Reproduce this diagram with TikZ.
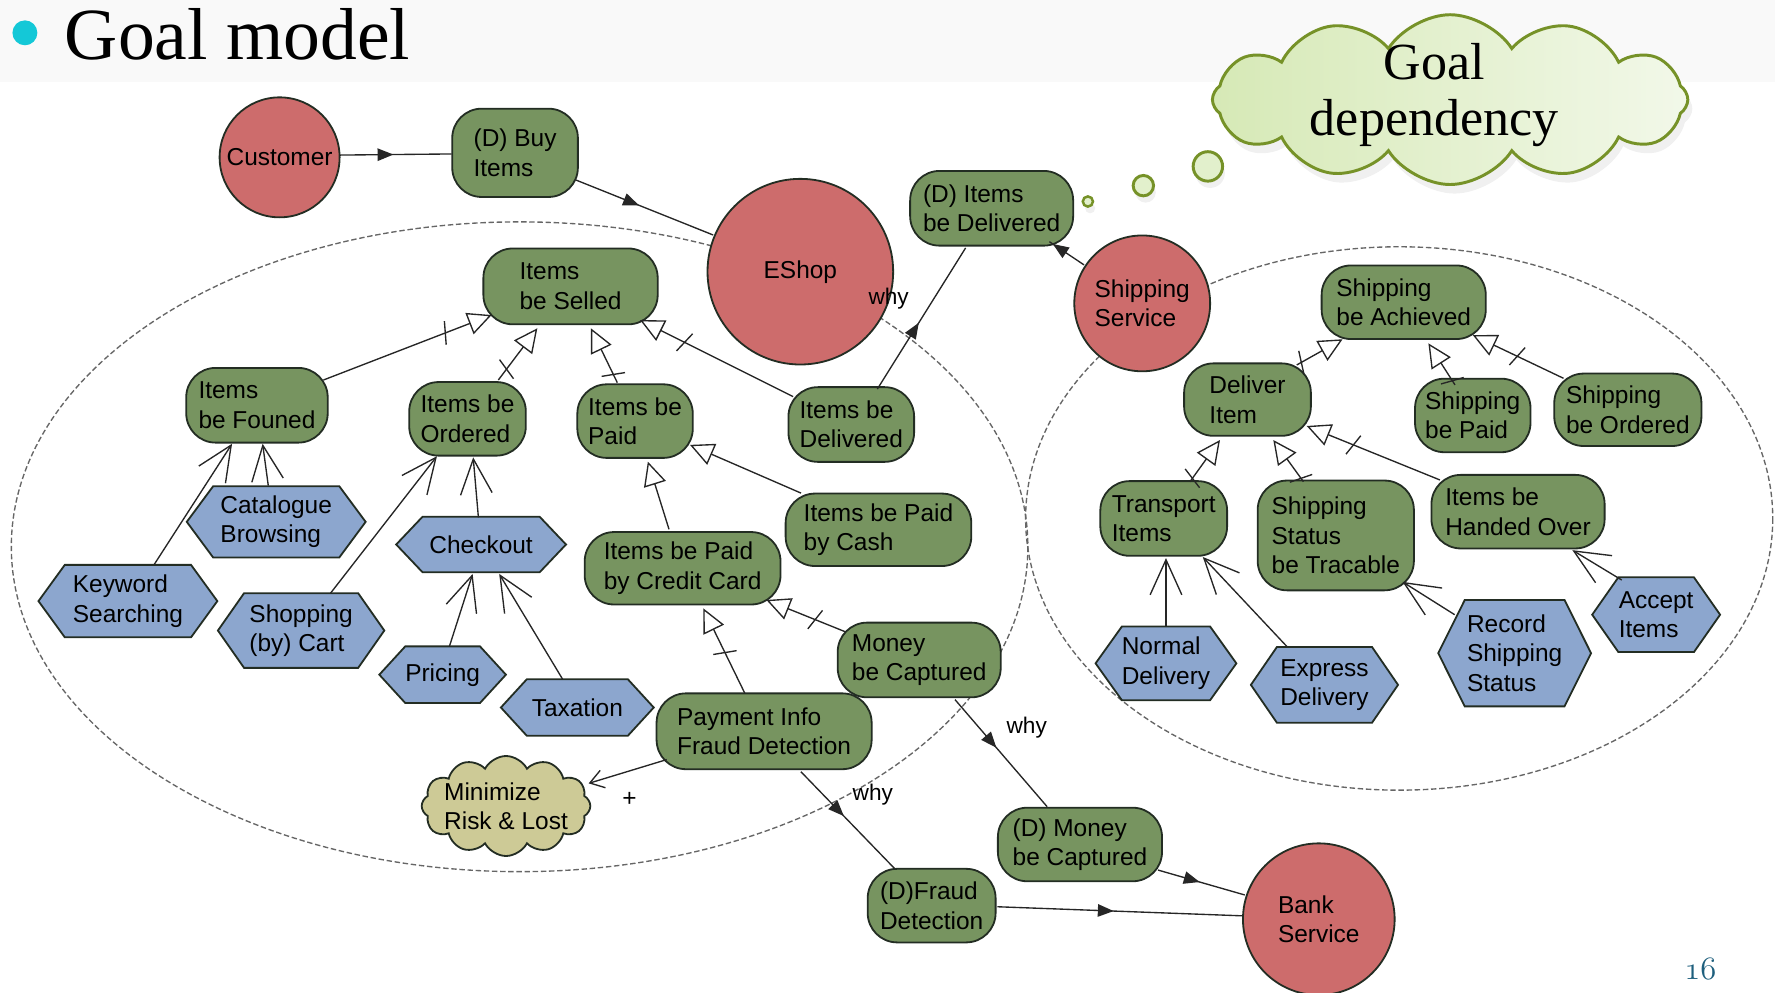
\documentclass[tikz,border=0pt]{standalone}
\usepackage{fontspec}
\newfontfamily\diafont{Liberation Sans}
\newfontfamily\serifont{Liberation Serif}
\usetikzlibrary{arrows.meta,shapes.symbols,decorations.markings,shadows}

\definecolor{goalgreen}{RGB}{119,148,96}
\definecolor{actorred}{RGB}{205,108,108}
\definecolor{taskblue}{RGB}{140,166,206}
\definecolor{softkhaki}{RGB}{205,202,150}
\definecolor{cloudleft}{RGB}{214,233,182}
\definecolor{cloudright}{RGB}{242,248,233}
\definecolor{bubbleedge}{RGB}{118,146,40}
\definecolor{edgedark}{RGB}{35,45,35}
\definecolor{bulletcyan}{RGB}{20,200,215}
\definecolor{pagenum}{RGB}{30,95,125}

\begin{document}
\begin{tikzpicture}[x=0.5pt,y=-0.5pt,
  every node/.style={font=\diafont\fontsize{10.8}{13}\selectfont, text=black},
  wh/.style 2 args={minimum width=#1*0.5pt, minimum height=#2*0.5pt},
  elem/.style={draw=edgedark, line width=0.8pt, inner sep=0pt, align=left},
  goal/.style={elem, rectangle, rounded corners=13pt, fill=goalgreen},
  actor/.style={elem, circle, fill=actorred},
  task/.style={elem, signal, signal to=west and east, signal pointer angle=#1, fill=taskblue},
  softgoal/.style={elem, cloud, cloud puffs=12, cloud puff arc=125, aspect=2.1, fill=softkhaki,
    inner xsep=-2pt, inner ysep=-3.5pt},
  bubble/.style={circle, draw=bubbleedge, line width=1.3pt, fill=cloudleft!70!white, inner sep=0pt,
    drop shadow={opacity=0.12, shadow xshift=1pt, shadow yshift=-3pt}},
  boundary/.style={draw=black!60, dash pattern=on 2.4pt off 1.2pt, line width=0.6pt},
  link/.style={draw=black!85, line width=0.6pt},
  meansend/.style={link, -{Straight Barb[length=15.5pt,width=14pt]}},
  refine/.style={link, -{Triangle[open,length=10.5pt,width=10pt]}},
  andtick/.style={postaction={decorate,decoration={markings,
      mark=at position #1 with {\draw[link,-] (-1.5pt,-5pt) -- (1.5pt,5pt);}}}},
  depend/.style={link, postaction={decorate,decoration={markings,
      mark=at position #1 with {\arrow{Triangle[length=7pt,width=5.5pt]}}}}},
  contrib/.style={link, -{Straight Barb[length=6pt,width=8pt]}},
  whylabel/.style={font=\diafont\fontsize{10}{12}\selectfont, inner sep=0pt},
]
\useasboundingbox (0,0) rectangle (1568,877);

% title strip
\fill[black!2.5] (0,0) rectangle (1568,72);
\node[circle, fill=bulletcyan, minimum size=11pt, inner sep=0pt] (bullet) at (22,29) {};
\node[anchor=base west, inner sep=0pt, font=\serifont\fontsize{32.5}{38}\selectfont] (title) at (57,53) {Goal model};

% thought bubble
\node[bubble, minimum size=4.5pt, line width=1.1pt] (b1) at (961,178) {};
\node[bubble, minimum size=9pt] (b2) at (1010,164) {};
\node[bubble, minimum size=13pt] (b3) at (1067,147) {};
\node[cloud, cloud puffs=12, cloud puff arc=115, aspect=2.7, wh={420}{150},
      draw=bubbleedge, line width=1.3pt, left color=cloudleft, right color=cloudright,
      drop shadow={opacity=0.12, shadow xshift=2pt, shadow yshift=-4pt}] (thought) at (1281,88) {};
\node[align=center, font=\serifont\fontsize{23}{25}\selectfont] (thoughttext) at (1267,84) {Goal\\dependency};

% actor boundaries
\draw[boundary] (459,483) ellipse [x radius=449, y radius=287];
\draw[boundary] (1236,458) ellipse [x radius=330, y radius=240];

% actors
\node[actor, minimum size=53pt] (customer) at (247,139) {Customer};
\node[actor, minimum size=82pt] (eshop) at (707,240) {EShop};
\node[actor, minimum size=60pt] (shipserv) at (1009,268) {Shipping\\Service};
\node[actor, minimum size=67pt] (bank) at (1165,812) {Bank\\Service};

% goals
\node[goal, wh={111}{78}] (dbuy) at (455,135) {(D) Buy\\Items};
\node[goal, wh={144}{66}] (ditemsdel) at (876,184) {(D) Items\\be Delivered};
\node[goal, wh={154}{67}] (selled) at (504,253) {Items\\be Selled};
\node[goal, wh={125}{66}] (founed) at (227,358) {Items\\be Founed};
\node[goal, wh={103}{65}] (ordered) at (413,370) {Items be\\Ordered};
\node[goal, wh={102}{65}] (paid) at (561,372) {Items be\\Paid};
\node[goal, wh={111}{66}] (delivered) at (752,375) {Items be\\Delivered};
\node[goal, wh={164}{64}] (cash) at (776,468) {Items be Paid\\by Cash};
\node[goal, wh={173}{64}] (credit) at (603,502) {Items be Paid\\by Credit Card};
\node[goal, wh={144}{66}] (moneycap) at (812,583) {Money\\be Captured};
\node[goal, wh={190}{67}] (fraudinfo) at (675,646) {Payment Info\\Fraud Detection};
\node[goal, wh={145}{65}] (dmoney) at (954,746) {(D) Money\\be Captured};
\node[goal, wh={113}{65}] (dfraud) at (823,800) {(D)Fraud\\Detection};
\node[goal, wh={145}{65}] (achieved) at (1240,267) {Shipping\\be Achieved};
\node[goal, wh={112}{64}] (deliver) at (1102,353) {Deliver\\Item};
\node[goal, wh={102}{65}] (shippaid) at (1301,367) {Shipping\\be Paid};
\node[goal, wh={130}{64}] (shipordered) at (1438,362) {Shipping\\be Ordered};
\node[goal, wh={112}{66}] (transport) at (1028,458) {Transport\\Items};
\node[goal, wh={138}{97}] (tracable) at (1180,473) {Shipping\\Status\\be Tracable};
\node[goal, wh={153}{65}] (handed) at (1341,452) {Items be\\Handed Over};

% tasks
\node[task=107, wh={158}{63}] (catalogue) at (244,461) {Catalogue\\Browsing};
\node[task=108, wh={158}{64}] (keyword) at (113,531) {Keyword\\Searching};
\node[task=110, wh={147}{66}] (shopping) at (266,557) {Shopping\\(by) Cart};
\node[task=93, wh={150}{49}] (checkout) at (425,481) {Checkout};
\node[task=95, wh={108}{50}] (pricing) at (391,596) {Pricing};
\node[task=95, wh={135}{50}] (taxation) at (510,625) {Taxation};
\node[task=109, wh={124}{65}] (normal) at (1030,586) {Normal\\Delivery};
\node[task=111, wh={130}{67}] (express) at (1170,605) {Express\\Delivery};
\node[task=127, wh={135}{94}] (record) at (1338,577) {Record\\Shipping\\Status};
\node[task=110, wh={113}{66}] (accept) at (1463,543) {Accept\\Items};

% softgoal
\node[softgoal] (minimize) at (447,712) {Minimize\\Risk \& Lost};

% dependencies between actors
\draw[depend=0.48] ([shift={(53,-2)}]customer.center) -- ([shift={(-56,1)}]dbuy.center);
\draw[depend=0.46] ([shift={(53.7,24)}]dbuy.center) -- ([shift={(-77,-32.4)}]eshop.center);
\draw[depend=0.9] ([shift={(-51.4,-34)}]shipserv.center) -- ([shift={(51,29.5)}]ditemsdel.center);
\draw[depend=0.47] ([shift={(23,-31.3)}]delivered.center) -- ([shift={(-23,35)}]ditemsdel.center);
\draw[depend=0.45] ([shift={(31.6,35)}]moneycap.center) -- ([shift={(-29,-33.4)}]dmoney.center);
\draw[depend=0.46] ([shift={(32.5,35.7)}]fraudinfo.center) -- ([shift={(-33,-33)}]dfraud.center);
\draw[depend=0.48] ([shift={(69,22.6)}]dmoney.center) -- ([shift={(-65.4,-21.4)}]bank.center);
\draw[depend=0.476] ([shift={(58,1)}]dfraud.center) -- ([shift={(-68,-3)}]bank.center);

\node[whylabel] (why1) at (785,264) {why};
\node[whylabel] (why2) at (907,643) {why};
\node[whylabel] (why3) at (771,702) {why};

% goal refinements inside EShop
\draw[refine, andtick=0.725] ([shift={(58.7,-22.3)}]founed.center) -- ([shift={(-69.7,25.3)}]selled.center);
\draw[refine, andtick=0.21] ([shift={(27.2,-34.3)}]ordered.center) -- ([shift={(-29.3,37)}]selled.center);
\draw[refine, andtick=0.15] ([shift={(-15.7,-34)}]paid.center) -- ([shift={(18,37)}]selled.center);
\draw[refine, andtick=0.71] ([shift={(-51.4,-24.6)}]delivered.center) -- ([shift={(61.4,29.7)}]selled.center);
\draw[refine] ([shift={(-68.4,-32.4)}]cash.center) -- ([shift={(48.5,21)}]paid.center);
\draw[refine] ([shift={(-12,-34.4)}]credit.center) -- ([shift={(11.3,35.8)}]paid.center);
\draw[refine, andtick=0.38] ([shift={(-65.5,-25)}]moneycap.center) -- ([shift={(74,28)}]credit.center);
\draw[refine, andtick=0.48] ([shift={(-17,-33.5)}]fraudinfo.center) -- ([shift={(18.3,35.4)}]credit.center);

% goal refinements inside Shipping Service
\draw[refine, andtick=0.1] ([shift={(43.5,-30.6)}]deliver.center) -- ([shift={(-54,32.7)}]achieved.center);
\draw[refine, andtick=0.1] ([shift={(-15.7,-27)}]shippaid.center) -- ([shift={(21.8,36.3)}]achieved.center);
\draw[refine, andtick=0.51] ([shift={(-56.8,-27.8)}]shipordered.center) -- ([shift={(61,29)}]achieved.center);
\draw[refine, andtick=0.08] ([shift={(23.2,-32.5)}]transport.center) -- ([shift={(-24.3,35.7)}]deliver.center);
\draw[refine, andtick=0.08] ([shift={(-28.6,-47.5)}]tracable.center) -- ([shift={(22.8,35.7)}]deliver.center);
\draw[refine, andtick=0.65] ([shift={(-69,-28)}]handed.center) -- ([shift={(52.3,23.3)}]deliver.center);

% means-end links from tasks
\draw[meansend] ([shift={(23,-32)}]keyword.center) -- ([shift={(-22,34)}]founed.center);
\draw[meansend] ([shift={(-7,-32)}]catalogue.center) -- ([shift={(5,34)}]founed.center);
\draw[meansend] ([shift={(26,-33)}]shopping.center) -- ([shift={(-27,33)}]ordered.center);
\draw[meansend] ([shift={(-2.4,-24)}]checkout.center) -- ([shift={(5,34)}]ordered.center);
\draw[meansend] ([shift={(6,-25)}]pricing.center) -- ([shift={(-7.5,26)}]checkout.center);
\draw[meansend] ([shift={(-13,-25)}]taxation.center) -- ([shift={(16,26)}]checkout.center);
\draw[meansend] ([shift={(0,-33)}]normal.center) -- ([shift={(2,35)}]transport.center);
\draw[meansend] ([shift={(-33.3,-34)}]express.center) -- ([shift={(34.5,34)}]transport.center);
\draw[meansend] ([shift={(-53,-34)}]record.center) -- ([shift={(59,41)}]tracable.center);
\draw[meansend] ([shift={(-30.4,-30.6)}]accept.center) -- ([shift={(48,34)}]handed.center);

% contribution to the softgoal
\draw[contrib] ([shift={(-86,25)}]fraudinfo.center) -- ([shift={(73,-20)}]minimize.center);
\node[inner sep=0pt] (plus) at (556,706) {+};

% slide number
\node[text=pagenum, inner sep=0pt,
      font=\fontencoding{OML}\fontfamily{cmm}\fontseries{m}\fontshape{it}\fontsize{14}{14}\selectfont]
      (pageno) at (1502,856) {16};
\end{tikzpicture}
\end{document}
